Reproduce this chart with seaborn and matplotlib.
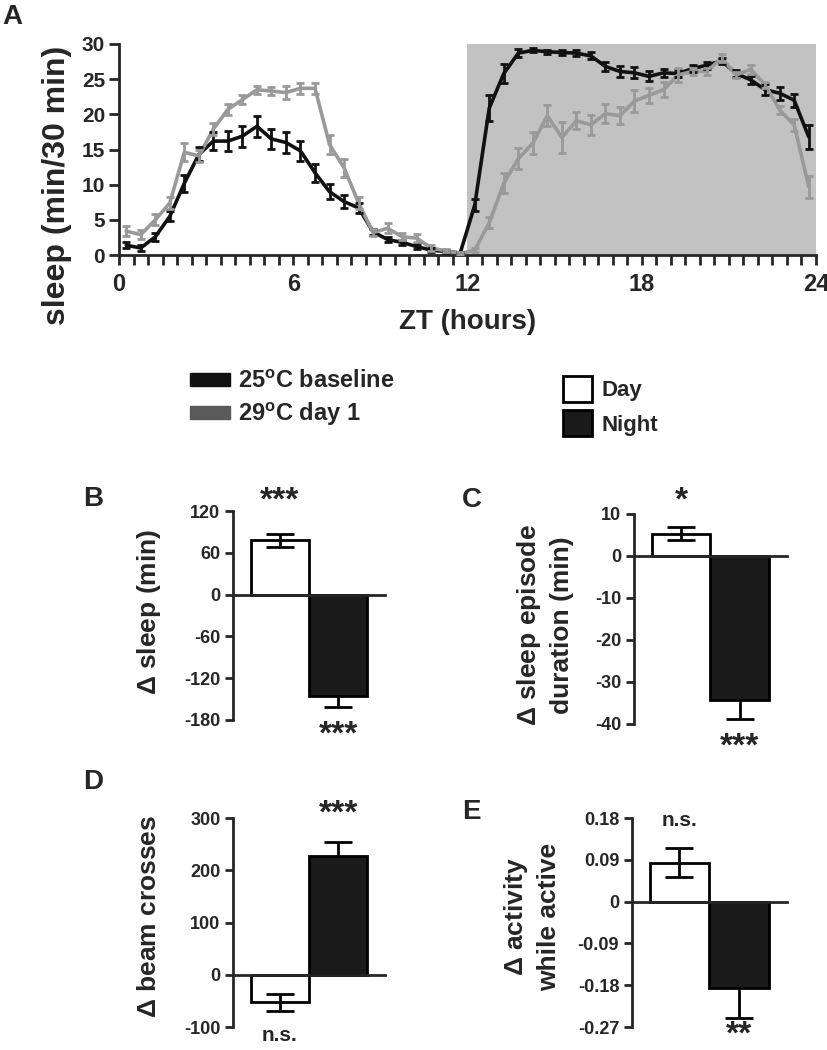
'''Sleep at 25C vs 29C: 24h profile (A) and day/night differences (B-E).'''
import numpy as np
import pandas as pd
import matplotlib
matplotlib.use('Agg')
import matplotlib.pyplot as plt
from matplotlib.patches import Patch
import seaborn as sns

## DATA
zt = np.arange(0.25, 24, 0.5)  # bin centres, 30-min bins
groups = ['25oC baseline', '29oC day 1']
base_sleep = [1.4, 1.0, 2.6, 5.5, 10.2, 14.3, 16.2, 16.2, 16.9, 18.3, 16.5, 16.0,
              14.8, 11.7, 9.0, 7.6, 6.7, 3.3, 2.2, 1.8, 1.2, 0.7, 0.5, 0.3,
              7.1, 20.9, 25.8, 28.7, 29.1, 28.9, 28.8, 28.7, 28.3, 26.8, 26.1, 25.9,
              25.4, 25.9, 25.8, 26.5, 27.0, 27.6, 25.8, 24.9, 23.5, 23.0, 22.0, 16.8]
base_sem = [0.4, 0.4, 0.6, 0.7, 1.2, 1.0, 1.3, 1.4, 1.5, 1.5, 1.4, 1.5,
            1.4, 1.3, 1.1, 0.9, 0.7, 0.4, 0.4, 0.4, 0.4, 0.3, 0.2, 0.2,
            0.8, 1.9, 1.3, 0.6, 0.3, 0.3, 0.4, 0.4, 0.5, 0.6, 0.8, 0.8,
            0.7, 0.6, 0.5, 0.5, 0.5, 0.4, 0.5, 0.6, 0.8, 0.9, 0.9, 1.7]
hot_sleep = [3.4, 2.9, 5.0, 7.4, 14.6, 14.1, 17.9, 20.7, 22.1, 23.5, 23.3, 23.1,
             23.7, 23.7, 15.7, 12.4, 7.4, 3.2, 3.8, 2.6, 2.4, 1.0, 0.6, 0.2,
             0.7, 4.6, 10.2, 13.7, 15.9, 19.8, 16.7, 19.1, 18.5, 20.1, 19.8, 21.9,
             22.7, 23.5, 25.6, 26.1, 26.1, 28.0, 25.6, 26.4, 24.2, 20.6, 18.5, 9.7]
hot_sem = [0.7, 0.6, 0.8, 0.9, 1.3, 0.9, 0.8, 0.8, 0.7, 0.6, 0.6, 0.9,
           0.8, 0.8, 1.4, 1.3, 0.8, 0.5, 0.7, 0.5, 0.6, 0.4, 0.2, 0.2,
           0.3, 0.8, 1.4, 1.5, 1.6, 1.5, 2.2, 1.2, 1.4, 1.4, 1.2, 1.5,
           1.1, 1.1, 1.0, 0.5, 0.5, 0.6, 0.4, 0.6, 0.4, 0.6, 0.9, 1.6]

phases = ['Day', 'Night']
d_sleep, d_sleep_err, d_sleep_sig = [78, -146], [9, 16], ['***', '***']
d_episode, d_episode_err, d_episode_sig = [5.3, -34.4], [1.6, 4.4], ['*', '***']
d_beam, d_beam_err, d_beam_sig = [-53, 228], [17, 27], ['n.s.', '***']
d_act, d_act_err, d_act_sig = [0.084, -0.186], [0.031, 0.064], ['n.s.', '**']

## STYLE
sns.set_theme(style='ticks')
plt.rcParams['font.family'] = ['Liberation Sans', 'DejaVu Sans']
plt.rcParams['font.weight'] = 'bold'
plt.rcParams['axes.labelweight'] = 'bold'
plt.rcParams['mathtext.fontset'] = 'custom'
plt.rcParams['mathtext.rm'] = 'Liberation Sans'
plt.rcParams['mathtext.bf'] = 'Liberation Sans:bold'
plt.rcParams['axes.linewidth'] = 2
INK = '#111111'
GREY = '#999999'

fig = plt.figure(figsize=(8.28, 10.5), dpi=100)

## PANEL A
ax = fig.add_axes([0.1437, 0.7571, 0.8418, 0.2010])
ax.axvspan(12, 24, color='#c2c2c2', lw=0, zorder=0)
df = pd.DataFrame({'ZT': np.concatenate([zt, zt]),
                   'sleep': base_sleep + hot_sleep,
                   'group': [groups[0]] * len(zt) + [groups[1]] * len(zt)})
sns.lineplot(data=df, x='ZT', y='sleep', hue='group', palette=[INK, GREY],
             lw=2.6, legend=False, ax=ax)
ax.errorbar(zt, base_sleep, yerr=base_sem, fmt='none', ecolor=INK,
            elinewidth=2, capsize=2.8, capthick=2, zorder=3)
ax.errorbar(zt, hot_sleep, yerr=hot_sem, fmt='none', ecolor=GREY,
            elinewidth=2, capsize=2.8, capthick=2, zorder=4)
ax.set_xlim(0, 24)
ax.set_ylim(0, 30)
ax.set_xticks([0, 6, 12, 18, 24])
ax.set_xticks(np.arange(0, 24.5, 0.5), minor=True)
ax.set_yticks(range(0, 31, 5))
ax.tick_params(axis='x', which='both', direction='out', length=7, width=2,
               labelsize=17, pad=6)
ax.tick_params(axis='y', direction='out', length=7, width=2, labelsize=15, pad=3)
ax.set_xlabel('ZT (hours)', fontsize=20, labelpad=9)
ax.set_ylabel('sleep (min/30 min)', fontsize=23)
ax.yaxis.set_label_coords(-0.068, 0.33)
sns.despine(ax=ax)


def bar_panel(rect, vals, errs, sigs, sig_y, ylim, yticks, ticklabels, label, lab_xy):
    ax = fig.add_axes(rect)
    sns.barplot(x=phases, y=vals, hue=phases, palette={'Day': 'white', 'Night': '#1a1a1a'},
                edgecolor='black', linewidth=2, width=1, legend=False, ax=ax, zorder=2)
    # day error bar sits over the white bar, night error bar behind the black bar
    ax.errorbar([0], vals[:1], yerr=errs[:1], fmt='none', ecolor='black',
                elinewidth=2, capsize=10, capthick=2, zorder=5)
    ax.errorbar([1], vals[1:], yerr=errs[1:], fmt='none', ecolor='black',
                elinewidth=2, capsize=10, capthick=2, zorder=1)
    for i, s in enumerate(sigs):
        ax.text(i, sig_y[i], s, ha='center', va='center', fontweight='bold',
                fontsize=15 if s == 'n.s.' else 24, clip_on=False)
    ax.set_xlim(-0.8, 1.8)
    ax.set_ylim(*ylim)
    ax.set_yticks(yticks)
    ax.set_yticklabels(ticklabels)
    ax.set_xticks([])
    ax.set_xlabel('')
    ax.spines['bottom'].set_position(('data', 0))
    ax.spines['bottom'].set_zorder(6)
    ax.tick_params(axis='y', direction='out', length=6, width=2, labelsize=13, pad=3)
    ax.set_ylabel(label, fontsize=19, linespacing=1.35)
    ax.yaxis.set_label_coords(*lab_xy)
    sns.despine(ax=ax)
    return ax


bar_panel([0.2814, 0.3143, 0.1836, 0.1990], d_sleep, d_sleep_err, d_sleep_sig, [135, -202],
          (-180, 120), [-180, -120, -60, 0, 60, 120], ['-180', '-120', '-60', '0', '60', '120'],
          r'$\Delta$ sleep (min)', (-0.46, 0.517))
bar_panel([0.7657, 0.3105, 0.1844, 0.2000], d_episode, d_episode_err, d_episode_sig, [13.0, -45.4],
          (-40, 10), [-40, -30, -20, -10, 0, 10], ['-40', '-30', '-20', '-10', '0', '10'],
          '$\\Delta$ sleep episode\nduration (min)', (-0.393, 0.471))
bar_panel([0.2814, 0.0219, 0.1836, 0.1990], d_beam, d_beam_err, d_beam_sig, [-117, 307],
          (-100, 300), [-100, 0, 100, 200, 300], ['-100', '0', '100', '200', '300'],
          r'$\Delta$ beam crosses', (-0.474, 0.531))
bar_panel([0.7629, 0.0219, 0.1872, 0.1990], d_act, d_act_err, d_act_sig, [0.174, -0.287],
          (-0.27, 0.18), [-0.27, -0.18, -0.09, 0, 0.09, 0.18],
          ['-0.27', '-0.18', '-0.09', '0', '0.09', '0.18'],
          '$\\Delta$ activity\nwhile active', (-0.456, 0.529))

## LEGENDS
fig.legend(handles=[Patch(color=INK), Patch(color='#5a5a5a')],
           labels=[r'25$^{\mathbf{o}}$C baseline', r'29$^{\mathbf{o}}$C day 1'],
           loc='upper left', bbox_to_anchor=(0.2295, 0.6476), frameon=False,
           borderpad=0, borderaxespad=0, handlelength=1.7, handleheight=0.42,
           handletextpad=0.35, labelspacing=0.3, prop={'size': 17, 'weight': 'bold'})
fig.legend(handles=[Patch(facecolor='white', edgecolor='black', lw=2),
                    Patch(facecolor='#1a1a1a', edgecolor='black', lw=2)],
           labels=phases, loc='upper left', bbox_to_anchor=(0.680, 0.642), frameon=False,
           borderpad=0, borderaxespad=0, handlelength=1.3, handleheight=1.45,
           handletextpad=0.45, labelspacing=0.35, prop={'size': 16, 'weight': 'bold'})

## PANEL LETTERS
for letter, (x, y) in {'A': (2, 4), 'B': (83, 486), 'C': (462, 487),
                       'D': (83, 769), 'E': (462, 799)}.items():
    fig.text(x / 828, 1 - y / 1050, letter, fontsize=20, fontweight='bold',
             ha='left', va='top')

fig.savefig('out.png', dpi=100)
